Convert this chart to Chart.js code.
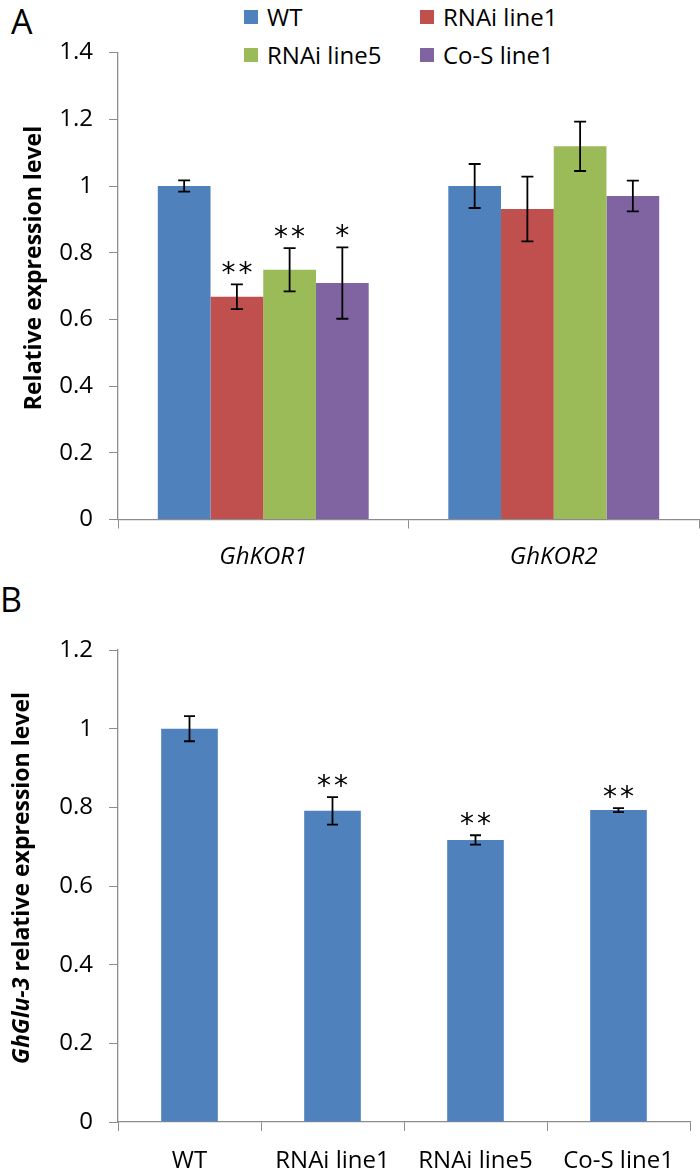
<!DOCTYPE html>
<html>
<head>
<meta charset="utf-8">
<script src="https://cdn.jsdelivr.net/npm/chart.js@4.4.1/dist/chart.umd.min.js"></script>
<style>
  body { margin: 0; background: #fff; }
  #page { position: relative; width: 700px; height: 1176px; font-family: "Open Sans", sans-serif; color: #000; }
  .letter { position: absolute; font-size: 34px; line-height: 34px; }
  .leg { position: absolute; font-size: 24px; line-height: 28px; white-space: nowrap; }
  .leg i { position: absolute; left: 0; top: 7px; width: 14px; height: 14px; }
  .leg span { position: absolute; left: 23px; top: 0; }
  canvas { position: absolute; left: 0; }
</style>
</head>
<body>
<div id="page">
  <div class="letter" style="left:11px; top:4px;">A</div>
  <div class="letter" style="left:0px; top:582px;">B</div>
  <div id="legend"></div>
  <canvas id="chartA" width="700" height="590" style="top:0"></canvas>
  <canvas id="chartB" width="700" height="586" style="top:590px"></canvas>
</div>
<script>
// panel A data
const genesA = ['GhKOR1', 'GhKOR2'];
const seriesNames = ['WT', 'RNAi line1', 'RNAi line5', 'Co-S line1'];
const seriesColors = ['#4f81bd', '#c0504d', '#9bbb59', '#8064a2'];
const wtA = [1.0, 1.0];
const rnai1A = [0.668, 0.931];
const rnai5A = [0.749, 1.119];
const cos1A = [0.709, 0.970];
const wtErrA = [0.017, 0.066];
const rnai1ErrA = [0.037, 0.097];
const rnai5ErrA = [0.065, 0.074];
const cos1ErrA = [0.107, 0.046];
const wtMarkA = ['', ''];
const rnai1MarkA = ['**', ''];
const rnai5MarkA = ['**', ''];
const cos1MarkA = ['*', ''];
const yTicksA = ['0', '0.2', '0.4', '0.6', '0.8', '1', '1.2', '1.4'];

// panel B data
const linesB = ['WT', 'RNAi line1', 'RNAi line5', 'Co-S line1'];
const valuesB = [1.0, 0.791, 0.717, 0.793];
const errB = [0.032, 0.035, 0.012, 0.005];
const marksB = ['', '**', '**', '**'];
const yTicksB = ['0', '0.2', '0.4', '0.6', '0.8', '1', '1.2'];

const axisGray = '#8c8c8c';
Chart.defaults.font.family = '"Open Sans", sans-serif';
Chart.defaults.color = '#000';

// legend for panel A, 2 x 2 grid
const legCols = [244, 420];
const legRows = [3, 41];
const legend = document.getElementById('legend');
seriesNames.forEach((name, i) => {
  const d = document.createElement('div');
  d.className = 'leg';
  d.style.left = legCols[i % 2] + 'px';
  d.style.top = legRows[Math.floor(i / 2)] + 'px';
  d.innerHTML = '<i style="background:' + seriesColors[i] + '"></i><span>' + name + '</span>';
  legend.appendChild(d);
});

function drawStars(ctx, mark, x, yc) {
  if (!mark) return;
  ctx.font = '28px "DejaVu Sans"';
  ctx.textAlign = 'center';
  ctx.textBaseline = 'alphabetic';
  const m = ctx.measureText('*');
  const base = yc + (m.actualBoundingBoxAscent - m.actualBoundingBoxDescent) / 2;
  const pitch = 17;
  const n = mark.length;
  for (let k = 0; k < n; k++) {
    ctx.fillText('*', x + (k - (n - 1) / 2) * pitch, base);
  }
}

function errorBars(errs, marks, capHalf) {
  return {
    id: 'errorBars',
    afterDatasetsDraw(chart) {
      const ctx = chart.ctx;
      const y = chart.scales.y;
      ctx.save();
      ctx.strokeStyle = '#000';
      ctx.fillStyle = '#000';
      ctx.lineWidth = 1.8;
      chart.data.datasets.forEach((ds, i) => {
        chart.getDatasetMeta(i).data.forEach((bar, j) => {
          const v = ds.data[j], e = errs[i][j];
          const top = y.getPixelForValue(v + e);
          const bot = y.getPixelForValue(v - e);
          ctx.beginPath();
          ctx.moveTo(bar.x, top); ctx.lineTo(bar.x, bot);
          ctx.moveTo(bar.x - capHalf, top); ctx.lineTo(bar.x + capHalf, top);
          ctx.moveTo(bar.x - capHalf, bot); ctx.lineTo(bar.x + capHalf, bot);
          ctx.stroke();
          drawStars(ctx, marks[i][j], bar.x, top - 16);
        });
      });
      ctx.restore();
    }
  };
}

// rotated y title, may be made of several font runs
function yTitle(parts, cx, cy) {
  return {
    id: 'yTitle',
    afterDraw(chart) {
      const ctx = chart.ctx;
      ctx.save();
      ctx.translate(cx, cy);
      ctx.rotate(-Math.PI / 2);
      ctx.fillStyle = '#000';
      ctx.textAlign = 'left';
      ctx.textBaseline = 'middle';
      let total = 0;
      parts.forEach(p => { ctx.font = p.font; p.w = ctx.measureText(p.text).width; total += p.w; });
      let x = -total / 2;
      parts.forEach(p => { ctx.font = p.font; ctx.fillText(p.text, x, 0); x += p.w; });
      ctx.restore();
    }
  };
}

function axes(yMax, yLabels, xFont, xHeight, xPad) {
  return {
    x: {
      grid: { drawOnChartArea: false, tickLength: 9, color: axisGray, offset: true },
      border: { color: axisGray, width: 1.3 },
      ticks: { font: xFont, padding: xPad, maxRotation: 0 },
      afterFit: s => { s.height = xHeight; }
    },
    y: {
      min: 0, max: yMax,
      grid: { drawOnChartArea: false, tickLength: 9, color: axisGray },
      border: { color: axisGray, width: 1.3 },
      ticks: { stepSize: 0.2, padding: 16, font: { size: 24 }, callback: (v, i) => yLabels[i] },
      afterFit: s => { s.width = 118; }
    }
  };
}

new Chart(document.getElementById('chartA'), {
  type: 'bar',
  data: {
    labels: genesA,
    datasets: [wtA, rnai1A, rnai5A, cos1A].map((vals, i) => ({
      label: seriesNames[i],
      data: vals,
      backgroundColor: seriesColors[i],
      categoryPercentage: 0.726,
      barPercentage: 1
    }))
  },
  options: {
    responsive: false,
    animation: false,
    layout: { padding: { top: 52.6, right: 1, left: 0, bottom: 0 } },
    plugins: { legend: { display: false }, tooltip: { enabled: false } },
    scales: axes(1.4, yTicksA, { size: 24, style: 'italic' }, 70.5, 14)
  },
  plugins: [
    errorBars([wtErrA, rnai1ErrA, rnai5ErrA, cos1ErrA], [wtMarkA, rnai1MarkA, rnai5MarkA, cos1MarkA], 6),
    yTitle([{ text: 'Relative expression level', font: 'bold 23px "Open Sans"' }], 34, 268)
  ]
});

new Chart(document.getElementById('chartB'), {
  type: 'bar',
  data: {
    labels: linesB,
    datasets: [{
      label: 'GhGlu-3',
      data: valuesB,
      backgroundColor: seriesColors[0],
      categoryPercentage: 0.396,
      barPercentage: 1
    }]
  },
  options: {
    responsive: false,
    animation: false,
    layout: { padding: { top: 60, right: 10, left: 0, bottom: 0 } },
    plugins: { legend: { display: false }, tooltip: { enabled: false } },
    scales: axes(1.2, yTicksB, { size: 24 }, 54, 16)
  },
  plugins: [
    errorBars([errB], [marksB], 5.5),
    yTitle([
      { text: 'GhGlu-3', font: 'italic bold 23px "Open Sans"' },
      { text: ' relative expression level', font: 'bold 23px "Open Sans"' }
    ], 22, 288)
  ]
});
</script>
</body>
</html>
